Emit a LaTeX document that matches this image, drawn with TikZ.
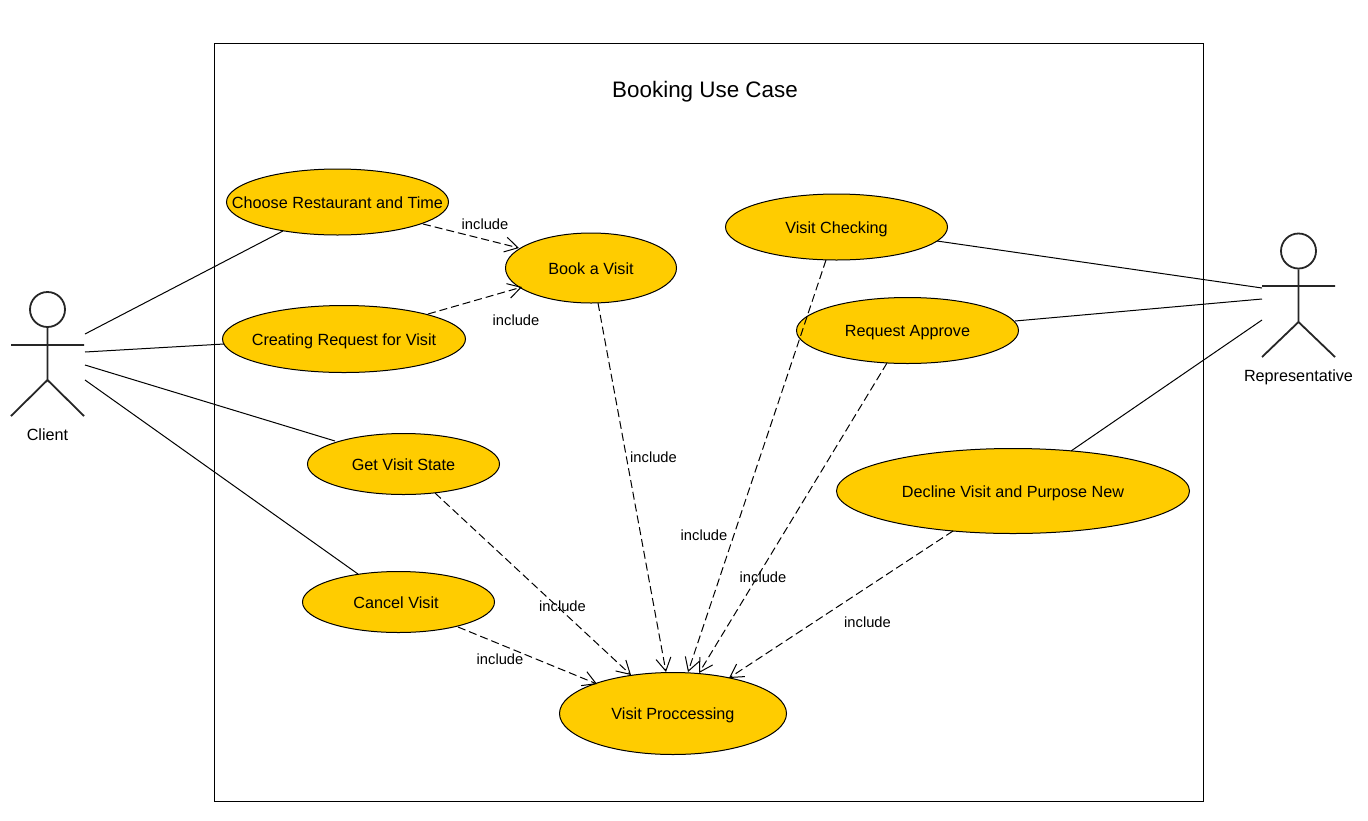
\documentclass[tikz,border=0pt]{standalone}
\usepackage{fontspec}
\setmainfont{Liberation Sans}
\usetikzlibrary{arrows.meta,shapes.geometric}
\definecolor{uc}{RGB}{255,204,0}
\newcommand{\uctext}[2][0pt]{\makebox[0pt][c]{\kern#1\relax #2\kern-#1\relax}}
\tikzset{
 usecase/.style={ellipse,draw=black,fill=uc,line width=1pt,inner sep=0pt,font=\fontsize{16.2}{18}\selectfont,text=black,text height=12pt,text depth=0pt},
 assoc/.style={draw=black,line width=1pt},
 incl/.style={draw=black,line width=1pt,dash pattern=on 8pt off 4pt,-{Straight Barb[length=13pt,width=15pt,line width=1pt]}},
 lbl/.style={font=\fontsize{14.7}{17}\selectfont,inner sep=0pt,text=black},
 actorlabel/.style={font=\fontsize{16.2}{18}\selectfont,inner sep=0pt,text=black},
 actorline/.style={draw=black!85,line width=1.8pt}}
\begin{document}
\begin{tikzpicture}[x=1pt,y=-1pt]
\useasboundingbox (0,0) rectangle (1368,820);
\fill[white] (0,0) rectangle (1368,820);
\node[draw=black,line width=1pt,minimum width=989pt,minimum height=758pt,inner sep=0pt] (sys) at (708.5,422) {};
\node[font=\fontsize{22.4}{26}\selectfont] (title) at (705,91.5) {Booking Use Case};
% use cases
\node[usecase,minimum width=222pt,minimum height=66pt] (choose) at (337.5,202) {\uctext{Choose Restaurant and Time}};
\node[usecase,minimum width=243pt,minimum height=67pt] (create) at (344,339) {\uctext{Creating Request for Visit}};
\node[usecase,minimum width=192pt,minimum height=61pt] (state) at (403.5,464) {\uctext{Get Visit State}};
\node[usecase,minimum width=192pt,minimum height=61pt] (cancel) at (398.5,602) {\uctext[-2.5pt]{Cancel Visit}};
\node[usecase,minimum width=171pt,minimum height=70pt] (book) at (591,268) {\uctext{Book a Visit}};
\node[usecase,minimum width=222pt,minimum height=66pt] (check) at (836.5,227) {\uctext{Visit Checking}};
\node[usecase,minimum width=222pt,minimum height=66pt] (approve) at (907.5,330.5) {\uctext{Request Approve}};
\node[usecase,minimum width=353pt,minimum height=85pt] (decline) at (1013,491) {\uctext{Decline Visit and Purpose New}};
\node[usecase,minimum width=227pt,minimum height=82pt] (proc) at (673,713.5) {\uctext{Visit Proccessing}};
% actors
\node[draw=black!85,line width=1.8pt,circle,minimum size=35pt,inner sep=0pt] (chead) at (47.5,309.5) {};
\coordinate (chip) at (47.5,380);
\draw[actorline] (chead.south) -- (chip) (11,345) -- (84,345) (chip) -- (11,416) (chip) -- (84,416);
\node[actorlabel] (clabel) at (47.5,434.5) {Client};
\coordinate (ca1) at (85,334);
\coordinate (ca2) at (85,352);
\coordinate (ca3) at (85,365);
\coordinate (ca4) at (85,380);
\node[draw=black!85,line width=1.8pt,circle,minimum size=35pt,inner sep=0pt] (rhead) at (1298.5,251) {};
\coordinate (rhip) at (1298.5,322);
\draw[actorline] (rhead.south) -- (rhip) (1262,286) -- (1335,286) (rhip) -- (1262,357) (rhip) -- (1335,357);
\node[actorlabel] (rlabel) at (1298.5,377) {Representative};
\coordinate (ra1) at (1262,288);
\coordinate (ra2) at (1262,299);
\coordinate (ra3) at (1262,320);
% associations
\coordinate (e1) at (283,231); \coordinate (e2) at (224,344);
\coordinate (e3) at (335,441); \coordinate (e4) at (358,574);
\coordinate (e5) at (937,241); \coordinate (e6) at (1015,321);
\coordinate (e7) at (1071,451);
\draw[assoc] (ca1) -- (e1);
\draw[assoc] (ca2) -- (e2);
\draw[assoc] (ca3) -- (e3);
\draw[assoc] (ca4) -- (e4);
\draw[assoc] (ra1) -- (e5);
\draw[assoc] (ra2) -- (e6);
\draw[assoc] (ra3) -- (e7);
% includes
\coordinate (p1) at (423,224); \coordinate (t1) at (519,248);
\draw[incl] (p1) -- (t1);
\coordinate (p2) at (428,314); \coordinate (t2) at (522,287);
\draw[incl] (p2) -- (t2);
\coordinate (p3) at (598,303); \coordinate (t3) at (666,672);
\draw[incl] (p3) -- (t3);
\coordinate (p4) at (435,493); \coordinate (t4) at (631,675);
\draw[incl] (p4) -- (t4);
\coordinate (p5) at (458,627); \coordinate (t5) at (597,684);
\draw[incl] (p5) -- (t5);
\coordinate (p6) at (826,260); \coordinate (t6) at (688,672);
\draw[incl] (p6) -- (t6);
\coordinate (p7) at (887,363); \coordinate (t7) at (699,673);
\draw[incl] (p7) -- (t7);
\coordinate (p8) at (953,531); \coordinate (t8) at (729,678);
\draw[incl] (p8) -- (t8);
% labels
\node[lbl] (l1) at (485,224) {include};
\node[lbl] (l2) at (516,320) {include};
\node[lbl] (l3) at (653.5,457) {include};
\node[lbl] (l4) at (562.5,606) {include};
\node[lbl] (l5) at (500,659) {include};
\node[lbl] (l6) at (704,535) {include};
\node[lbl] (l7) at (763,577) {include};
\node[lbl] (l8) at (867.5,622) {include};
\end{tikzpicture}
\end{document}
